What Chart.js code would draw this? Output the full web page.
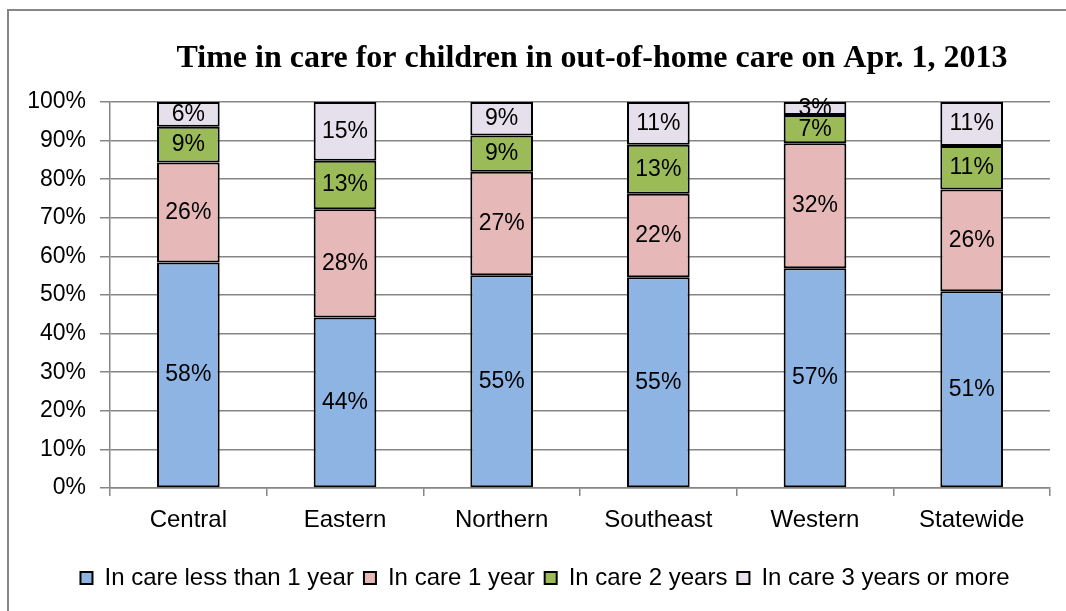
<!DOCTYPE html>
<html>
<head>
<meta charset="utf-8">
<script src="https://cdn.jsdelivr.net/npm/chart.js@4/dist/chart.umd.min.js"></script>
<style>
  html, body { margin: 0; padding: 0; background: #fff; overflow: hidden; }
  #wrap { position: relative; width: 1066px; height: 611px; }
  #frameTop { position: absolute; left: 7px; top: 9px; width: 1059px; height: 2px; background: #868686; }
  #frameLeft { position: absolute; left: 7px; top: 9px; width: 2px; height: 602px; background: #868686; }
  canvas { position: absolute; left: 0; top: 0; }
</style>
</head>
<body>
<div id="wrap">
  <div id="frameTop"></div>
  <div id="frameLeft"></div>
  <canvas id="c" width="1066" height="611"></canvas>
</div>
<script>
const titleText = 'Time in care for children in out-of-home care on Apr. 1, 2013';
const categories = ['Central', 'Eastern', 'Northern', 'Southeast', 'Western', 'Statewide'];
const seriesNames = ['In care less than 1 year', 'In care 1 year', 'In care 2 years', 'In care 3 years or more'];
const lessThan1Year = [58.4, 44.2, 55.1, 54.6, 56.9, 51.0];
const oneYear      = [25.9, 28.0, 26.8, 21.6, 32.4, 26.3];
const twoYears     = [9.3, 12.6, 9.4, 12.7, 7.3, 11.3];
const threePlus    = [6.4, 15.2, 8.7, 11.1, 3.4, 11.4];
const yTicks = [0, 10, 20, 30, 40, 50, 60, 70, 80, 90, 100];

const colors = ['#8EB4E3', '#E6B9B8', '#9BBB59', '#E6E0EC'];
const seriesData = [lessThan1Year, oneYear, twoYears, threePlus];
const FONT = '"Liberation Sans", Arial, sans-serif';

const labelPlugin = {
  id: 'segLabels',
  afterDatasetsDraw(chart) {
    const ctx = chart.ctx;
    ctx.save();
    ctx.font = '23px ' + FONT;
    ctx.fillStyle = '#000';
    ctx.textAlign = 'center';
    ctx.textBaseline = 'middle';
    chart.data.datasets.forEach((ds, i) => {
      const meta = chart.getDatasetMeta(i);
      meta.data.forEach((el, j) => {
        const v = ds.data[j];
        ctx.fillText(Math.round(v) + '%', el.x, (el.y + el.base) / 2);
      });
    });
    ctx.restore();
  }
};

const titlePlugin = {
  id: 'customTitle',
  afterDraw(chart) {
    const ctx = chart.ctx;
    const a = chart.chartArea;
    ctx.save();
    ctx.font = 'bold 32px "Liberation Serif", "Times New Roman", serif';
    ctx.fillStyle = '#000';
    ctx.textAlign = 'center';
    ctx.textBaseline = 'alphabetic';
    ctx.fillText(titleText, (a.left + a.right) / 2 + 12, a.top - 35);
    ctx.restore();
  }
};

const legendShift = {
  id: 'legendShift',
  afterLayout(chart) {
    if (chart.legend) {
      chart.legend.left += 20;
      chart.legend.right += 20;
    }
  }
};

new Chart(document.getElementById('c'), {
  type: 'bar',
  data: {
    labels: categories,
    datasets: seriesNames.map((n, i) => ({
      label: n,
      data: seriesData[i],
      backgroundColor: colors[i],
      borderColor: '#000',
      borderWidth: 2,
      borderSkipped: false,
      barPercentage: 1,
      categoryPercentage: 0.4
    }))
  },
  options: {
    responsive: false,
    animation: false,
    devicePixelRatio: 1,
    layout: { padding: { top: 102, right: 16, bottom: 11, left: 0 } },
    plugins: {
      title: { display: false },
      tooltip: { enabled: false },
      legend: {
        position: 'bottom',
        labels: {
          boxWidth: 12,
          boxHeight: 12,
          padding: 10,
          color: '#000',
          font: { family: FONT, size: 24 }
        }
      }
    },
    scales: {
      x: {
        stacked: true,
        grid: { display: true, drawOnChartArea: false, drawTicks: true, tickLength: 8, color: '#868686', lineWidth: 1.5 },
        border: { display: true, color: '#868686', width: 1.5 },
        ticks: { color: '#000', padding: 10, font: { family: FONT, size: 24 } },
        afterFit(s) { s.height = 68; }
      },
      y: {
        stacked: true,
        min: 0,
        max: 100,
        afterBuildTicks(s) { s.ticks = yTicks.map(v => ({ value: v })); },
        grid: { color: '#868686', lineWidth: 1.5, tickLength: 10, drawTicks: true },
        border: { display: true, color: '#868686', width: 1.5 },
        ticks: {
          color: '#000',
          padding: 14,
          font: { family: FONT, size: 23 },
          callback: v => v + '%'
        },
        afterFit(s) { s.width = 110; }
      }
    }
  },
  plugins: [labelPlugin, titlePlugin, legendShift]
});
</script>
</body>
</html>
